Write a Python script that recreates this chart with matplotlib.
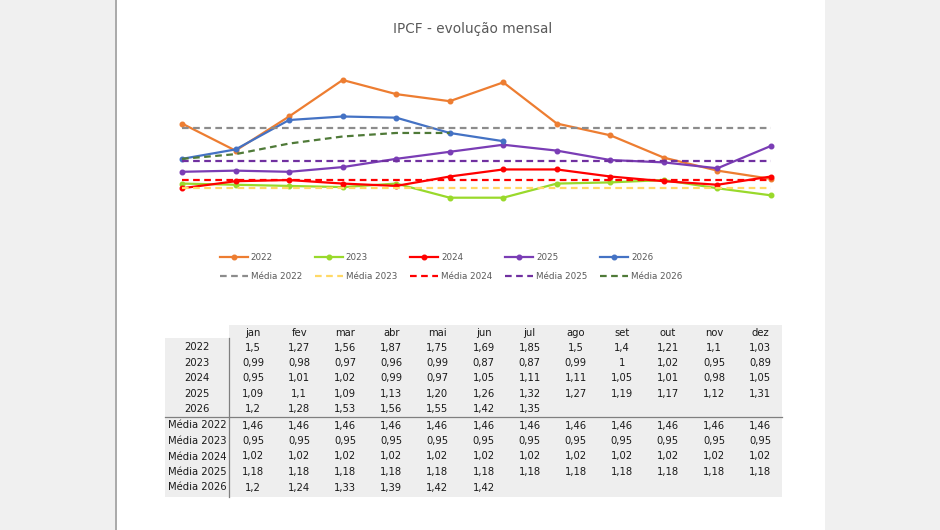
import matplotlib
matplotlib.use("Agg")
import matplotlib.pyplot as plt
from matplotlib.patches import Rectangle
import numpy as np

months = ["jan", "fev", "mar", "abr", "mai", "jun", "jul", "ago", "set", "out", "nov", "dez"]
years = ["2022", "2023", "2024", "2025", "2026"]
v2022 = [1.5, 1.27, 1.56, 1.87, 1.75, 1.69, 1.85, 1.5, 1.4, 1.21, 1.1, 1.03]
v2023 = [0.99, 0.98, 0.97, 0.96, 0.99, 0.87, 0.87, 0.99, 1, 1.02, 0.95, 0.89]
v2024 = [0.95, 1.01, 1.02, 0.99, 0.97, 1.05, 1.11, 1.11, 1.05, 1.01, 0.98, 1.05]
v2025 = [1.09, 1.1, 1.09, 1.13, 1.20, 1.26, 1.32, 1.27, 1.19, 1.17, 1.12, 1.31]
v2026 = [1.2, 1.28, 1.53, 1.56, 1.55, 1.42, 1.35]
m2022 = [1.46] * 12
m2023 = [0.95] * 12
m2024 = [1.02] * 12
m2025 = [1.18] * 12
m2026 = [1.2, 1.24, 1.33, 1.39, 1.42, 1.42]

# table strings as shown
t_series = [
    ["1,5", "1,27", "1,56", "1,87", "1,75", "1,69", "1,85", "1,5", "1,4", "1,21", "1,1", "1,03"],
    ["0,99", "0,98", "0,97", "0,96", "0,99", "0,87", "0,87", "0,99", "1", "1,02", "0,95", "0,89"],
    ["0,95", "1,01", "1,02", "0,99", "0,97", "1,05", "1,11", "1,11", "1,05", "1,01", "0,98", "1,05"],
    ["1,09", "1,1", "1,09", "1,13", "1,20", "1,26", "1,32", "1,27", "1,19", "1,17", "1,12", "1,31"],
    ["1,2", "1,28", "1,53", "1,56", "1,55", "1,42", "1,35"],
]
t_means = [
    ["1,46"] * 12,
    ["0,95"] * 12,
    ["1,02"] * 12,
    ["1,18"] * 12,
    ["1,2", "1,24", "1,33", "1,39", "1,42", "1,42"],
]

series = [v2022, v2023, v2024, v2025, v2026]
means = [m2022, m2023, m2024, m2025, m2026]
s_colors = ["#ED7D31", "#99D92B", "#FF0000", "#7A3DB5", "#4472C4"]
m_colors = ["#8C8C8C", "#FFD966", "#FF0000", "#7030A0", "#4F7A38"]

W, H = 940, 530
fig = plt.figure(figsize=(W / 100, H / 100), dpi=100)
fig.patch.set_facecolor("#F0F0F0")

bg = fig.add_axes([0, 0, 1, 1])
bg.set_xlim(0, W)
bg.set_ylim(H, 0)
bg.axis("off")
bg.add_patch(Rectangle((117, 0), 708, H, facecolor="white", edgecolor="none"))
bg.add_patch(Rectangle((114.5, 0), 2.2, H, facecolor="#ABABAB", edgecolor="none"))

# table background
tgrey = "#EEEEEE"
bg.add_patch(Rectangle((229, 325), 553, 13, facecolor=tgrey, edgecolor="none"))
bg.add_patch(Rectangle((165, 338), 617, 159, facecolor=tgrey, edgecolor="none"))
bg.plot([229, 229], [338, 497], color="#7F7F7F", lw=0.9)
bg.plot([165, 782], [417.3, 417.3], color="#7F7F7F", lw=0.9)

col_x = [253 + 46.1 * i for i in range(12)]
row_y1 = [347.5 + 15.4 * i for i in range(5)]
row_y2 = [425.5 + 15.5 * i for i in range(5)]
tfs = 7.2
tcol = "#1A1A1A"
for j, m in enumerate(months):
    bg.text(col_x[j], 333.3, m, ha="center", va="center", fontsize=tfs, color=tcol)
for i, y in enumerate(years):
    bg.text(197, row_y1[i], y, ha="center", va="center", fontsize=tfs, color=tcol)
    for j, s in enumerate(t_series[i]):
        bg.text(col_x[j], row_y1[i], s, ha="center", va="center", fontsize=tfs, color=tcol)
    bg.text(197.5, row_y2[i], "Média " + y, ha="center", va="center", fontsize=tfs, color=tcol)
    for j, s in enumerate(t_means[i]):
        bg.text(col_x[j], row_y2[i], s, ha="center", va="center", fontsize=tfs, color=tcol)

bg.text(473, 29, "IPCF - evolução mensal", ha="center", va="center", fontsize=9.8, color="#595959")

# chart axes: map x 0..11 -> px 182..771 ; y 0.8..1.95
px_per = 117.7
y_top = 80 - (1.95 - 1.87) * px_per
y_bot = 80 + (1.87 - 0.8) * px_per
ax = fig.add_axes([182 / W, 1 - y_bot / H, (771 - 182) / W, (y_bot - y_top) / H])
ax.set_xlim(0, 11)
ax.set_ylim(0.8, 1.95)
ax.axis("off")
ax.patch.set_alpha(0)

x = np.arange(12)
handles = []
for i in range(5):
    vals = series[i]
    h, = ax.plot(x[:len(vals)], vals, color=s_colors[i], lw=1.6, marker="o", ms=3.3,
                 clip_on=False, label=years[i], zorder=3)
    handles.append(h)
mhandles = []
for i in range(5):
    vals = means[i]
    h, = ax.plot(x[:len(vals)], vals, color=m_colors[i], lw=1.6, ls=(0, (3, 2)),
                 clip_on=False, label="Média " + years[i], zorder=4)
    mhandles.append(h)

order = []
for i in range(5):
    order += [handles[i], mhandles[i]]
leg = fig.legend(handles=order, labels=[h.get_label() for h in order], ncol=5,
                 loc="center", bbox_to_anchor=(451 / W, 1 - 267 / H), frameon=False,
                 fontsize=6.3, handlelength=3.2, handletextpad=0.35, columnspacing=1.45,
                 labelspacing=1.1, labelcolor="#595959")
fig.savefig("out.png", dpi=100, facecolor=fig.get_facecolor())
